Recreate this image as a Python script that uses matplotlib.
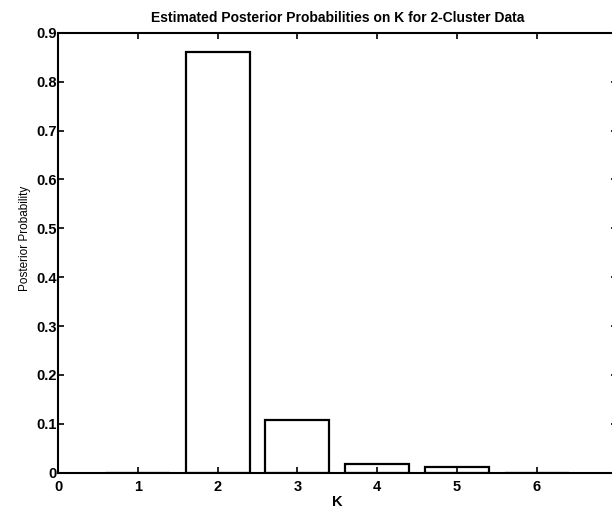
import numpy as np
import matplotlib
matplotlib.use("Agg")
import matplotlib.pyplot as plt

# posterior probabilities on K
kValues = [1, 2, 3, 4, 5, 6]
postProb = [0.0, 0.86, 0.108, 0.018, 0.011, 0.0]
xTicks = [0, 1, 2, 3, 4, 5, 6, 7]
yTicks = [0, 0.1, 0.2, 0.3, 0.4, 0.5, 0.6, 0.7, 0.8, 0.9]

plt.rcParams['font.family'] = ['Liberation Sans', 'DejaVu Sans']

fig = plt.figure(figsize=(6.12, 5.08), dpi=100)
# axes run a little past the right edge, as in the scan
ax = fig.add_axes([0.0948, 0.0695, 0.9127, 0.866])

ax.bar(kValues, postProb, width=0.8, color='white', edgecolor='black', linewidth=1.6)

ax.set_xlim(0, 7)
ax.set_ylim(0, 0.9)
ax.set_xticks(xTicks)
ax.set_yticks(yTicks)
ax.set_xticklabels([str(t) for t in xTicks], fontsize=10.5, fontweight='bold')
ax.set_yticklabels(['0'] + ['%.1f' % t for t in yTicks[1:]], fontsize=10.5, fontweight='bold')
ax.tick_params(direction='in', top=True, right=True, length=4, width=1.2)
ax.tick_params(axis='x', pad=5)
ax.tick_params(axis='y', pad=1)
for s in ax.spines.values():
    s.set_linewidth(1.5)

ax.set_title("Estimated Posterior Probabilities on K for 2-Cluster Data", fontsize=10, fontweight='bold', pad=8)
ax.set_xlabel("K", fontsize=10.5, fontweight='bold', labelpad=1)
ax.set_ylabel("Posterior Probability", fontsize=8.5)
ax.yaxis.set_label_coords(-0.048, 0.533)

fig.savefig("out.png", dpi=100)
